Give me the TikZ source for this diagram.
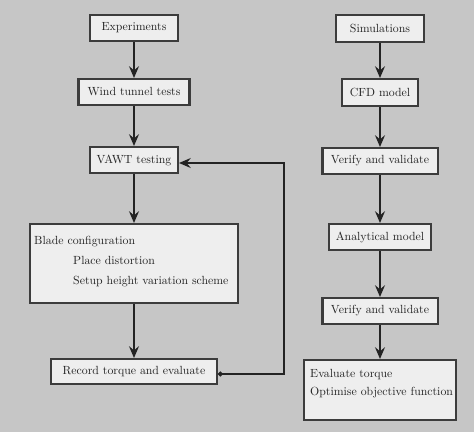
\documentclass[tikz,border=0pt]{standalone}
\usetikzlibrary{arrows.meta,calc}
\definecolor{bg}{RGB}{198,198,198}
\definecolor{boxfill}{RGB}{238,238,238}
\definecolor{boxline}{RGB}{60,60,60}
\definecolor{ink}{RGB}{35,35,35}
\def\pu{0.847pt}
\begin{document}
\begin{tikzpicture}[x=0.847pt,y=-0.847pt,
  bx/.style 2 args={draw=boxline, line width=1.7pt, fill=boxfill, text=ink,
    minimum width=#1*\pu, minimum height=#2*\pu, inner sep=0pt, font=\normalsize},
  conn/.style={draw=ink, line width=1.3pt, -{Stealth[length=10pt,width=8.5pt,inset=3.5pt]}},
  txt/.style={anchor=base west, inner sep=0pt, text=ink}]
\fill[bg] (0,0) rectangle (474,432);
\useasboundingbox (0,0) rectangle (474,432);
% left column
\node[bx={88}{26}] (exp) at (134,28) {Experiments};
\node[bx={111}{26}] (wind) at (134,92) {Wind tunnel tests};
\node[bx={88}{26}] (vawt) at (134,160) {VAWT testing};
\node[bx={208}{79}] (blade) at (134,263.5) {};
\node[txt] (b1) at (34,244) {Blade configuration};
\node[txt] (b2) at (73,264) {Place distortion};
\node[txt] (b3) at (73,284) {Setup height variation scheme};
\node[bx={166}{25}] (rec) at (134,371.5) {Record torque and evaluate};
% right column
\node[bx={88}{27}] (sim) at (380,28.5) {Simulations};
\node[bx={76}{27}] (cfd) at (380,92.5) {CFD model};
\node[bx={115}{26}] (ver1) at (380,161) {Verify and validate};
\node[bx={102}{26}] (ana) at (380,237) {Analytical model};
\node[bx={115}{26}] (ver2) at (380,311) {Verify and validate};
\node[bx={152}{60}] (eval) at (380,390) {};
\node[txt] (e1) at (310,377) {Evaluate torque};
\node[txt] (e2) at (310,395) {Optimise objective function};
% connectors
\draw[conn] (exp) -- (wind);
\draw[conn] (wind) -- (vawt);
\draw[conn] (vawt) -- (blade);
\draw[conn] (blade) -- (rec);
\draw[conn] (sim) -- (cfd);
\draw[conn] (cfd) -- (ver1);
\draw[conn] (ver1) -- (ana);
\draw[conn] (ana) -- (ver2);
\draw[conn] (ver2) -- (eval);
\coordinate (c1) at (284,374);
\coordinate (c2) at (284,163);
\draw[conn, {Circle[length=4pt]}-{Stealth[length=10pt,width=8.5pt,inset=3.5pt]}]
  (rec.east |- c1) -- (c1) -- (c2) -- (vawt.east |- c2);
\end{tikzpicture}
\end{document}
